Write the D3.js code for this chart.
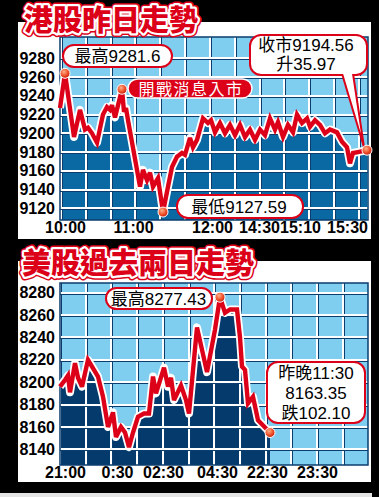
<!DOCTYPE html>
<html><head><meta charset="utf-8">
<script src="https://cdn.jsdelivr.net/npm/d3@7/dist/d3.min.js"></script>
<style>html,body{margin:0;padding:0;background:#000;}svg{display:block}</style>
</head><body>
<svg id="c" width="379" height="497"></svg>
<script>
// ---------- data: Hong Kong (top) ----------
const hkTitle = "港股昨日走勢";
const hkYTicks = [9120, 9140, 9160, 9180, 9200, 9220, 9240, 9260, 9280];
const hkXTickLabels = ["10:00", "11:00", "12:00", "14:30", "15:10", "15:30"];
const hkXTickSlots = [5, 73, 152, 199, 240, 287];
const hkSlots = [0,5,14,20,25,28,32,37,43,47,50,52,55,62,64,66,68,77,80,83,87,90,93,98,103,108,112,117,122,125,130,133,137,143,148,151,155,160,165,170,175,180,185,190,195,200,205,210,215,218,223,228,233,237,242,247,250,255,260,265,270,277,282,287,290,293,298,307];
const hkValues = [9227,9264,9196,9225,9204,9206,9200,9190,9220,9228,9225,9230,9217,9247,9223,9227,9214,9161,9143,9161,9150,9158,9143,9152,9116,9143,9164,9175,9179,9177,9195,9185,9193,9216,9211,9214,9201,9211,9200,9209,9198,9209,9196,9204,9193,9204,9198,9216,9204,9212,9196,9209,9201,9220,9211,9216,9207,9214,9209,9200,9204,9201,9191,9185,9168,9179,9180,9182];
const hkEventSlot = 62;
const hkHighText = "最高9281.6";
const hkLowText = "最低9127.59";
const hkEventText = "開戰消息入市";
const hkCloseText = ["收市9194.56", "升35.97"];

// ---------- data: US (bottom) ----------
const usTitle = "美股過去兩日走勢";
const usYTicks = [8140, 8160, 8180, 8200, 8220, 8240, 8260, 8280];
const usXTickLabels = ["21:00", "0:30", "02:30", "04:30", "22:30", "23:30"];
const usXTickSlots = [5, 57, 103, 157, 207, 257];
const usSlots = [0,5,8,10,15,18,22,28,38,43,48,53,56,61,65,69,73,78,84,89,93,96,104,108,111,114,121,126,129,137,147,155,160,165,170,177,180,182,185,188,193,198,210];
const usValues = [8196,8202,8206,8191,8217,8204,8196,8220,8205,8187,8160,8173,8151,8160,8155,8142,8155,8169,8172,8172,8205,8190,8213,8196,8204,8184,8197,8184,8172,8249,8209,8247,8276,8262,8265,8265,8240,8214,8211,8181,8187,8166,8155];
const usHighText = "最高8277.43";
const usLastText = ["昨晚11:30", "8163.35", "跌102.10"];

// ---------- styling ----------
const RED = "#dc0019", LIGHT = "#7fcdef", NAVY = "#0b3d6e";
const TXT = "'Liberation Sans', Arial, 'Noto Sans CJK TC', sans-serif";
const CJK = "'Noto Sans CJK TC', 'Noto Sans CJK SC', sans-serif";

const svg = d3.select("#c");
const defs = svg.append("defs");
const g = defs.append("radialGradient").attr("id", "dotg").attr("cx", "40%").attr("cy", "35%").attr("r", "65%");
g.append("stop").attr("offset", "0%").attr("stop-color", "#ffb08a");
g.append("stop").attr("offset", "60%").attr("stop-color", "#f0522a");
g.append("stop").attr("offset", "100%").attr("stop-color", "#c8200e");

svg.append("rect").attr("width", 379).attr("height", 497).attr("fill", "#000");
svg.append("rect").attr("x", 0).attr("y", 493).attr("width", 372).attr("height", 4).attr("fill", "#e4e4e4");

function chart(o) {
  svg.append("rect").attr("x", 18).attr("y", o.panel[0]).attr("width", 353).attr("height", o.panel[1] - o.panel[0]).attr("fill", "#fff");
  const x = d3.scaleLinear().domain(o.xDomain).range([o.px0, o.px1]);
  const y = d3.scaleLinear().domain([o.yTicks[0], o.yTicks[o.yTicks.length - 1]]).range(o.yRange);
  const pts = o.slots.map((s, i) => [s, o.values[i]]);
  const gg = svg.append("g");
  gg.append("rect").attr("x", o.px0).attr("y", o.py0).attr("width", o.pxEnd - o.px0).attr("height", o.py1 - o.py0).attr("fill", LIGHT);
  gg.append("path").datum(pts).attr("fill", o.dark)
    .attr("d", d3.area().x(d => x(d[0])).y0(o.py1).y1(d => y(d[1])));
  // grid
  const vx = d3.range(o.gridStart, o.xDomain[1], o.gridStep);
  vx.forEach(v => {
    const px = Math.round(x(v));
    gg.append("line").attr("x1", px + 1.5).attr("x2", px + 1.5).attr("y1", o.py0).attr("y2", o.py1).attr("stroke", NAVY).attr("stroke-width", 1);
    gg.append("line").attr("x1", px).attr("x2", px).attr("y1", o.py0).attr("y2", o.py1).attr("stroke", "#fff").attr("stroke-width", 2);
  });
  o.yTicks.forEach(v => {
    const py = Math.round(y(v));
    gg.append("line").attr("y1", py + 1.5).attr("y2", py + 1.5).attr("x1", o.px0).attr("x2", o.pxEnd).attr("stroke", NAVY).attr("stroke-width", 1);
    gg.append("line").attr("y1", py).attr("y2", py).attr("x1", o.px0).attr("x2", o.pxEnd).attr("stroke", "#fff").attr("stroke-width", 2);
  });
  gg.append("rect").attr("x", o.px0).attr("y", o.py0).attr("width", o.pxEnd - o.px0).attr("height", o.py1 - o.py0)
    .attr("fill", "none").attr("stroke", NAVY).attr("stroke-width", 1.5);
  // axes labels
  const ya = d3.axisLeft(y).tickValues(o.yTicks).tickFormat(d3.format("d")).tickSize(0).tickPadding(0);
  const yg = svg.append("g").attr("transform", `translate(${o.px0 - 5},0)`).call(ya);
  yg.select(".domain").remove();
  yg.selectAll("text").attr("font-family", TXT).attr("font-weight", "bold").attr("font-size", 16).attr("fill", "#000");
  const xa = d3.axisBottom(x).tickValues(o.xTickSlots).tickFormat((d, i) => o.xTickLabels[i]).tickSize(0).tickPadding(0);
  const xg = svg.append("g").attr("transform", `translate(0,${o.xLabelY})`).call(xa);
  xg.select(".domain").remove();
  xg.selectAll("text").attr("font-family", TXT).attr("font-weight", "bold").attr("font-size", 16).attr("fill", "#000");
  // line
  const line = d3.line().x(d => x(d[0])).y(d => y(d[1]));
  svg.append("path").datum(pts).attr("d", line).attr("fill", "none").attr("stroke", "#fff").attr("stroke-width", 8).attr("stroke-linejoin", "round");
  svg.append("path").datum(pts).attr("d", line).attr("fill", "none").attr("stroke", RED).attr("stroke-width", 4.4).attr("stroke-linejoin", "miter").attr("stroke-miterlimit", 3);
  // title
  [[RED, 7.5], ["#fff", 4.5]].forEach(([c, w]) => {
    svg.append("text").attr("x", o.titleX).attr("y", o.titleY).text(o.title)
      .attr("font-family", CJK).attr("font-weight", 900).attr("font-size", 29)
      .attr("fill", RED).attr("stroke", c).attr("stroke-width", w).attr("stroke-linejoin", "round").attr("paint-order", "stroke");
  });
  return {x, y};
}

function box(x0, y0, w, h, lines, fs, baselines, cx) {
  svg.append("rect").attr("x", x0).attr("y", y0).attr("width", w).attr("height", h).attr("rx", Math.min(11, h / 2))
    .attr("fill", "#fff").attr("stroke", RED).attr("stroke-width", 2);
  lines.forEach((t, i) => svg.append("text").attr("x", cx).attr("y", baselines[i]).attr("text-anchor", "middle")
    .attr("font-family", TXT).attr("font-size", fs).attr("fill", "#000").text(t));
}
function dot(x, y) {
  svg.append("circle").attr("cx", x).attr("cy", y).attr("r", 5).attr("fill", "url(#dotg)").attr("stroke", "#fff").attr("stroke-width", 1);
}

// ---------- top chart ----------
const T = chart({
  panel: [22, 239], px0: 60, px1: 367, pxEnd: 368, py0: 37, py1: 220,
  xDomain: [0, 307], yTicks: hkYTicks, yRange: [208.3, 58.3],
  gridStart: 1, gridStep: 24.83, xTickSlots: hkXTickSlots, xTickLabels: hkXTickLabels, xLabelY: 222,
  slots: hkSlots, values: hkValues, dark: "#0a68a3", title: hkTitle, titleX: 24, titleY: 31
});
// ---------- bottom chart ----------
const B = chart({
  panel: [261, 482], px0: 60, px1: 368, pxEnd: 368, py0: 283, py1: 465,
  xDomain: [0, 308], yTicks: usYTicks, yRange: [449.3, 292.7],
  gridStart: 0, gridStep: 25.7, xTickSlots: usXTickSlots, xTickLabels: usXTickLabels, xLabelY: 467,
  slots: usSlots, values: usValues, dark: "#053a6d", title: usTitle, titleX: 22, titleY: 274
});

// annotations top
const hkHi = d3.maxIndex(hkValues), hkLo = d3.minIndex(hkValues), hkLast = hkValues.length - 1;
const hkEv = hkSlots.indexOf(hkEventSlot);
box(63, 45, 109, 22, [hkHighText], 17, [62], 117.5);
svg.append("rect").attr("x", 128).attr("y", 79).attr("width", 124).attr("height", 19).attr("rx", 9.5)
  .attr("fill", RED).attr("stroke", "#fff").attr("stroke-width", 1.5);
svg.append("text").attr("x", 191).attr("y", 94.5).attr("text-anchor", "middle").attr("font-family", CJK)
  .attr("font-size", 16).attr("letter-spacing", 1.5).attr("fill", "#fff").text(hkEventText);
box(177, 195, 126, 23, [hkLowText], 17, [213], 239);
// close callout with tail
const cxp = T.x(hkSlots[hkLast]), cyp = T.y(hkValues[hkLast]);
box(250, 35, 117, 40, hkCloseText, 17, [51, 70], 306);
svg.append("path").attr("d", `M342,73.5 L${cxp - 3},${cyp - 3} L353,73.5`).attr("fill", "#fff").attr("stroke", RED).attr("stroke-width", 2);
svg.append("rect").attr("x", 341).attr("y", 70).attr("width", 14).attr("height", 4).attr("fill", "#fff");
dot(T.x(hkSlots[hkHi]), T.y(hkValues[hkHi]));
dot(T.x(hkSlots[hkEv]), T.y(hkValues[hkEv]));
dot(T.x(hkSlots[hkLo]), T.y(hkValues[hkLo]));
dot(cxp, cyp);

// annotations bottom
const usHi = d3.maxIndex(usValues), usLast = usValues.length - 1;
box(106, 288, 106, 21, [usHighText], 17, [304.5], 158.5);
box(267, 362, 98, 61, usLastText, 17, [379, 398.5, 418.5], 316);
dot(B.x(usSlots[usHi]), B.y(usValues[usHi]));
dot(B.x(usSlots[usLast]), B.y(usValues[usLast]));
</script>
</body></html>
